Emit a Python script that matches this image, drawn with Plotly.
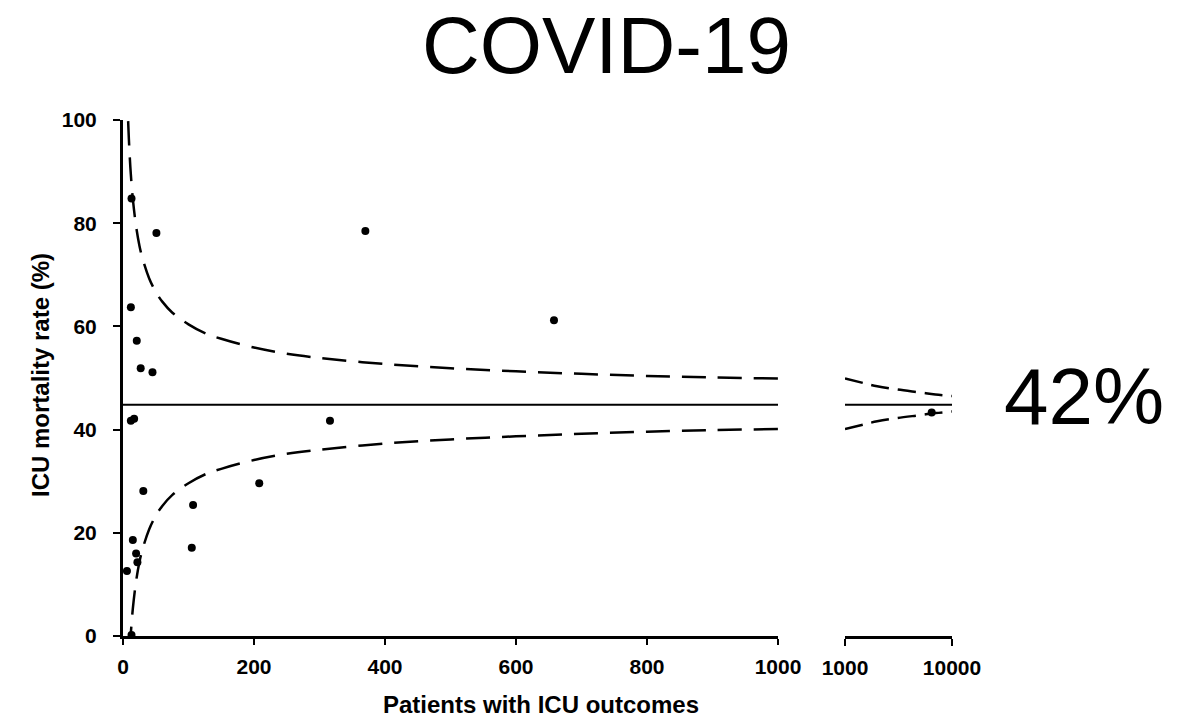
import plotly.graph_objects as go

# ---- data ----
study_n = [13, 51, 12, 21, 27, 45, 12, 17, 31, 107, 105, 208, 15, 20, 22, 6, 13, 316, 370, 658]
study_rate = [84.8, 78.1, 63.7, 57.2, 51.9, 51.1, 41.7, 42.1, 28.1, 25.4, 17.1, 29.6, 18.6, 16.0, 14.3, 12.6, 0.2, 41.7, 78.5, 61.2]

big_n = [6460]
big_rate = [43.3]

pooled_rate = 44.8

funnel_n = [5, 6, 7, 8, 10, 12, 15, 20, 25, 30, 40, 50, 60, 75, 100, 125, 150, 200, 250,
            300, 400, 500, 600, 700, 800, 900, 1000]
funnel_upper = [113.7, 107.8, 103.1, 99.3, 93.6, 89.4, 84.7, 79.4, 75.7, 73.1, 69.3, 66.7, 64.8,
                62.7, 60.4, 58.7, 57.6, 55.9, 54.7, 53.9, 52.7, 51.9, 51.3, 50.8, 50.4, 50.1, 49.9]
funnel_lower = [-23.7, -17.8, -13.1, -9.3, -3.6, 0.6, 5.3, 10.6, 14.3, 16.9, 20.7, 23.3, 25.2,
                27.3, 29.6, 31.3, 32.4, 34.1, 35.3, 36.1, 37.3, 38.1, 38.7, 39.2, 39.6, 39.9, 40.1]

funnel2_n = [1000, 1500, 2000, 3000, 5000, 7000, 10000]
funnel2_upper = [49.9, 49.0, 48.4, 47.8, 47.2, 46.8, 46.5]
funnel2_lower = [40.1, 41.0, 41.6, 42.2, 42.8, 43.2, 43.5]

left_ticks = [0, 200, 400, 600, 800, 1000]
right_ticks = [1000, 10000]
y_ticks = [0, 20, 40, 60, 80, 100]

title_text = "COVID-19"
side_text = "42%"
x_title = "Patients with ICU outcomes"
y_title = "ICU mortality rate (%)"

# ---- layout helpers ----
W, H = 1178, 721
def fx(px):
    return px / W
def fy(py):
    return 1 - py / H

dash = "24px,12px"
lw = 2.5

fig = go.Figure()

# left panel
fig.add_trace(go.Scatter(x=funnel_n, y=funnel_upper, mode="lines",
                         line=dict(color="black", width=lw, dash=dash, shape="spline"),
                         xaxis="x", yaxis="y", hoverinfo="skip"))
fig.add_trace(go.Scatter(x=funnel_n, y=funnel_lower, mode="lines",
                         line=dict(color="black", width=lw, dash=dash, shape="spline"),
                         xaxis="x", yaxis="y", hoverinfo="skip"))
fig.add_trace(go.Scatter(x=[0, 1000], y=[pooled_rate, pooled_rate], mode="lines",
                         line=dict(color="black", width=2),
                         xaxis="x", yaxis="y", hoverinfo="skip"))
fig.add_trace(go.Scatter(x=study_n, y=study_rate, mode="markers",
                         marker=dict(color="black", size=8),
                         xaxis="x", yaxis="y", cliponaxis=False))

# right panel (log scale)
fig.add_trace(go.Scatter(x=funnel2_n, y=funnel2_upper, mode="lines",
                         line=dict(color="black", width=lw, dash="18px,9px", shape="spline"),
                         xaxis="x2", yaxis="y2", hoverinfo="skip"))
fig.add_trace(go.Scatter(x=funnel2_n, y=funnel2_lower, mode="lines",
                         line=dict(color="black", width=lw, dash="18px,9px", shape="spline"),
                         xaxis="x2", yaxis="y2", hoverinfo="skip"))
fig.add_trace(go.Scatter(x=[1000, 10000], y=[pooled_rate, pooled_rate], mode="lines",
                         line=dict(color="black", width=2),
                         xaxis="x2", yaxis="y2", hoverinfo="skip"))
fig.add_trace(go.Scatter(x=big_n, y=big_rate, mode="markers",
                         marker=dict(color="black", size=8),
                         xaxis="x2", yaxis="y2", cliponaxis=False))

tickfont = dict(family="Liberation Sans, Arial, sans-serif", size=21, color="black")

fig.update_layout(
    width=W, height=H,
    margin=dict(l=0, r=0, t=0, b=0),
    paper_bgcolor="white", plot_bgcolor="white",
    showlegend=False,
    xaxis=dict(domain=[fx(123), fx(778)], range=[0, 1000], tickvals=left_ticks,
               ticktext=[f"<b>{v}</b>" for v in left_ticks],
               showline=True, linecolor="black", linewidth=3,
               ticks="outside", ticklen=6, tickwidth=2, tickcolor="black",
               showgrid=False, zeroline=False, tickfont=tickfont,
               ticklabelstandoff=4, anchor="y", automargin=False),
    yaxis=dict(domain=[fy(636), fy(120)], range=[0, 100], tickvals=y_ticks,
               ticktext=[f"<b>{v}</b>" for v in y_ticks],
               showline=True, linecolor="black", linewidth=3,
               ticks="outside", ticklen=7, tickwidth=2, tickcolor="black",
               showgrid=False, zeroline=False, tickfont=tickfont,
               ticklabelstandoff=12, anchor="x", automargin=False),
    xaxis2=dict(domain=[fx(845), fx(952)], type="log", range=[3, 4], tickvals=right_ticks,
                ticktext=[f"<b>{v}</b>" for v in right_ticks],
                showline=True, linecolor="black", linewidth=2.5,
                ticks="outside", ticklen=7, tickwidth=2, tickcolor="black",
                showgrid=False, zeroline=False, tickfont=tickfont,
                ticklabelstandoff=4, anchor="y2", automargin=False),
    yaxis2=dict(domain=[fy(636), fy(120)], range=[0, 100], matches="y",
                visible=False, anchor="x2"),
)

bigfont = dict(family="Liberation Sans, Arial, sans-serif", size=80, color="black")
fig.add_annotation(x=fx(606), y=1, xref="paper", yref="paper", text=title_text,
                   showarrow=False, xanchor="center", yanchor="top", borderpad=0,
                   font=bigfont)
fig.add_annotation(x=fx(1084), y=fy(396), xref="paper", yref="paper", text=side_text,
                   showarrow=False, xanchor="center", yanchor="middle",
                   font=bigfont)
fig.add_annotation(x=fx(541), y=fy(704), xref="paper", yref="paper", text=f"<b>{x_title}</b>",
                   showarrow=False, xanchor="center", yanchor="middle",
                   font=dict(family="Liberation Sans, Arial, sans-serif", size=24, color="black"))
fig.add_annotation(x=fx(40), y=fy(375), xref="paper", yref="paper", text=f"<b>{y_title}</b>",
                   showarrow=False, xanchor="center", yanchor="middle", textangle=-90,
                   font=dict(family="Liberation Sans, Arial, sans-serif", size=24, color="black"))

fig.write_html("out.html", config={"displayModeBar": False},
               post_script="document.body.style.margin='0px';document.body.style.overflow='hidden';")
